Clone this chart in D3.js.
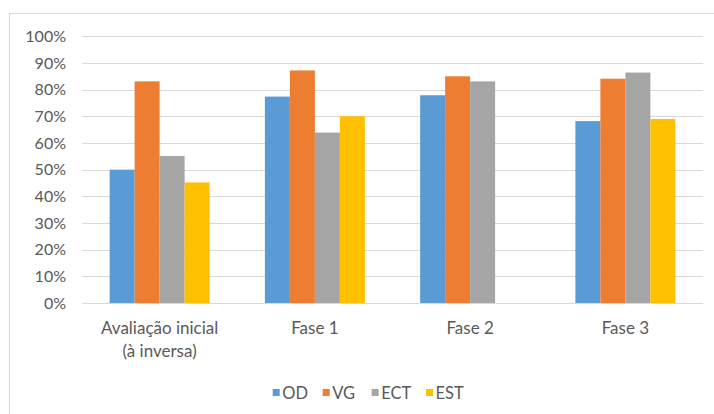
<!DOCTYPE html>
<html><head><meta charset="utf-8">
<script src="https://cdn.jsdelivr.net/npm/d3@7"></script>
<style>
html,body{margin:0;padding:0;background:#fff;}
svg{display:block;font-family:Lato,"Open Sans",sans-serif;}
</style></head>
<body>
<svg id="c" width="714" height="414"></svg>
<script>
const categories = [["Avaliação inicial","(à inversa)"],["Fase 1"],["Fase 2"],["Fase 3"]];
const series = ["OD","VG","ECT","EST"];
const colors = ["#5B9BD5","#ED7D31","#A5A5A5","#FFC000"];
const OD  = [0.50, 0.774, 0.779, 0.682];
const VG  = [0.831, 0.872, 0.850, 0.841];
const ECT = [0.551, 0.639, 0.831, 0.864];
const EST = [0.452, 0.700, null, 0.690];
const yTicks = [0,0.1,0.2,0.3,0.4,0.5,0.6,0.7,0.8,0.9,1.0];

(function(){
const values = [OD, VG, ECT, EST];
const svg = d3.select("#c");
const pLeft = 82, pRight = 703, pTop = 36.3, pBottom = 303;
const catKeys = categories.map((c,i)=>i);
const fnt = "Lato,'Open Sans',sans-serif";

// chart border
svg.append("rect").attr("x",9.5).attr("y",13.5).attr("width",720).attr("height",420)
  .attr("fill","none").attr("stroke","#d9d9d9").attr("stroke-width",1);

const y = d3.scaleLinear().domain([0,1]).range([pBottom, pTop]);
const x0 = d3.scaleBand().domain(catKeys).range([pLeft, pRight]).paddingInner(0.356).paddingOuter(0.178);
const x1 = d3.scaleBand().domain(series).range([0, x0.bandwidth()]);

// gridlines
svg.append("g").selectAll("line").data(yTicks).join("line")
  .attr("x1", pLeft).attr("x2", pRight)
  .attr("y1", d=>Math.round(y(d))+0.5).attr("y2", d=>Math.round(y(d))+0.5)
  .attr("stroke","#d9d9d9").attr("stroke-width",1);

// y labels
const yAxis = d3.axisLeft(y).tickValues(yTicks).tickFormat(d3.format(".0%")).tickSize(0).tickPadding(0);
const ga = svg.append("g").attr("transform",`translate(66,0)`).call(yAxis);
ga.select(".domain").remove();
ga.selectAll("text").attr("fill","#595959").attr("font-size","16px").attr("font-family",fnt);

// bars
const groups = svg.append("g").selectAll("g").data(catKeys).join("g")
  .attr("transform", d=>`translate(${x0(d)},0)`);
groups.selectAll("rect")
  .data(ci => series.map((s,si)=>({s, si, v: values[si][ci]})).filter(d=>d.v!=null))
  .join("rect")
  .attr("x", d=>x1(d.s)).attr("width", x1.bandwidth())
  .attr("y", d=>y(d.v)).attr("height", d=>y(0)-y(d.v))
  .attr("fill", d=>colors[d.si]);

// category labels
const cl = svg.append("g").selectAll("text").data(catKeys).join("text")
  .attr("x", d=>x0(d)+x0.bandwidth()/2).attr("y", 334)
  .attr("text-anchor","middle").attr("fill","#595959").attr("font-size","17px");
cl.selectAll("tspan").data(d=>categories[d]).join("tspan")
  .attr("x", function(){return this.parentNode.getAttribute("x");})
  .attr("dy",(d,i)=>i===0?0:23).text(d=>d);

// legend
const legendX = [272.7, 322.7, 371.7, 426];
const lg = svg.append("g").selectAll("g").data(series).join("g")
  .attr("transform",(d,i)=>`translate(${legendX[i]},0)`);
lg.append("rect").attr("x",0).attr("y",389).attr("width",7).attr("height",7).attr("fill",(d,i)=>colors[i]);
lg.append("text").attr("x",9.5).attr("y",399).attr("fill","#595959").attr("font-size","16.5px").text(d=>d);
})();
</script>
</body></html>
